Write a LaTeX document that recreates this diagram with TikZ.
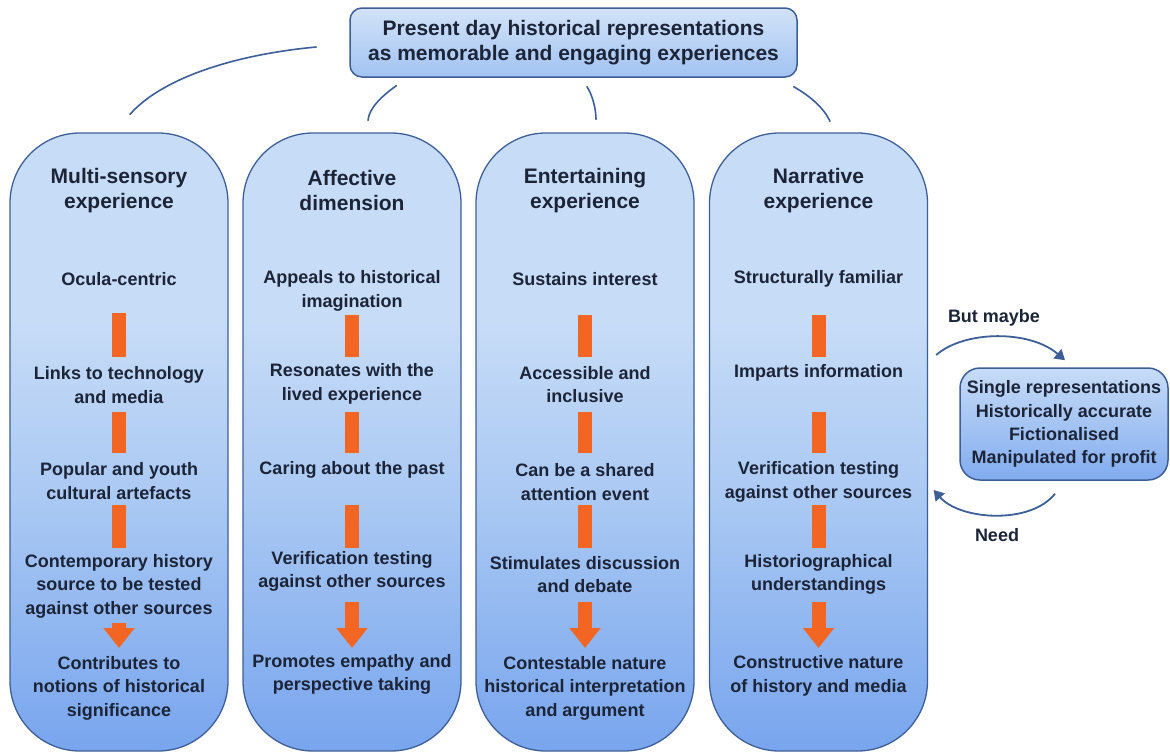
\documentclass[tikz,border=0pt]{standalone}
\usepackage{fontspec}
\setmainfont{Liberation Sans}
\usetikzlibrary{arrows.meta,calc}
\definecolor{ctop}{HTML}{C7DCF7}
\definecolor{cmid}{HTML}{A9C8F3}
\definecolor{cbot}{HTML}{78A5EE}
\definecolor{cedge}{HTML}{3E5F96}
\definecolor{ctxt}{HTML}{1C2438}
\definecolor{corange}{HTML}{F26522}
\pgfdeclareverticalshading{colshade}{100bp}{color(0bp)=(cbot); color(25bp)=(cbot); color(45bp)=(cmid); color(60bp)=(ctop); color(75bp)=(ctop); color(100bp)=(ctop)}
\tikzset{
 col/.style={draw=cedge, line width=1.3pt, rounded corners=70pt, shading=colshade,
   minimum width=218pt, minimum height=618pt, inner sep=0pt},
 ttl/.style={font=\bfseries\fontsize{21}{25}\selectfont, text=ctxt, align=center, inner sep=0pt},
 itm/.style={font=\bfseries\fontsize{18}{23.5}\selectfont, text=ctxt, align=center, inner sep=0pt},
 lbl/.style={font=\bfseries\fontsize{18}{22}\selectfont, text=ctxt, inner sep=0pt},
 bar/.style={draw=corange, line width=14pt},
 bigarrow/.style={draw=corange, line width=14pt, -{Triangle[width=30pt,length=20pt]}},
 link/.style={draw=cedge, line width=1.6pt, line cap=round},
 flow/.style={draw=cedge, line width=1.8pt, -{Triangle[width=12pt,length=10pt]}},
 topbox/.style={draw=cedge, line width=1.5pt, rounded corners=12pt, top color=ctop!80!white, bottom color=cmid!85!cbot,
   minimum width=447pt, minimum height=69pt, align=center, text=ctxt,
   font=\bfseries\fontsize{21}{25}\selectfont},
 sidebox/.style={draw=cedge, line width=1.5pt, rounded corners=20pt, top color=ctop, bottom color=cbot!80!cmid,
   minimum width=208pt, minimum height=112pt, align=center, text=ctxt, inner sep=0pt,
   font=\bfseries\fontsize{18}{23.3}\selectfont}
}
\begin{document}
\begin{tikzpicture}[x=1pt,y=-1pt]
\fill[white] (0,0) rectangle (1170,753);
\useasboundingbox (0,0) rectangle (1170,753);

% columns
\node[col] (k1) at (119,442) {};
\node[col] (k2) at (352,442) {};
\node[col] (k3) at (585,442) {};
\node[col] (k4) at (818.5,442) {};

% top box
\node[topbox] (top) at (573.5,42.5) {Present day historical representations\\as memorable and engaging experiences};

% links from top box to columns
\draw[link] ($(top.west)+(-33,4.5)$) .. controls (230,55) and (160,80) .. ($(k1.north)+(11,-18)$);
\draw[link] ($(top.south west)+(47,8)$) .. controls (382,96) and (369,108) .. ($(k2.north)+(16,-12)$);
\draw[link] ($(top.south)+(13.5,9)$) .. controls (593,96) and (596,110) .. ($(k3.north)+(11,-13)$);
\draw[link] ($(top.south east)+(-4,9)$) .. controls (810,96) and (824,108) .. ($(k4.north)+(11.5,-11)$);

% column 1
\node[ttl] (t1) at (119,190.5) {Multi-sensory\\experience};
\node[itm] (a1) at (119,279) {Ocula-centric};
\node[itm] (a2) at (119,385) {Links to technology\\and media};
\node[itm] (a3) at (119,481) {Popular and youth\\cultural artefacts};
\node[itm] (a4) at (119,586) {Contemporary history\\source to be tested\\against other sources};
\node[itm] (a5) at (119,688) {Contributes to\\notions of historical\\significance};
\draw[bar] ($(a1.center)+(0,34)$) -- ($(a2.center)+(0,-28)$);
\draw[bar] ($(a2.center)+(0,27)$) -- ($(a3.center)+(0,-28)$);
\draw[bar] ($(a3.center)+(0,24)$) -- ($(a4.center)+(0,-38)$);
\draw[bigarrow] ($(a4.center)+(0,37)$) -- ($(a5.center)+(0,-40)$);

% column 2
\node[ttl] (t2) at (352,190.5) {Affective\\dimension};
\node[itm] (b1) at (352,291) {Appeals to historical\\imagination};
\node[itm] (b2) at (352,384) {Resonates with the\\lived experience};
\node[itm] (b3) at (352,470) {Caring about the past};
\node[itm] (b4) at (352,571.5) {Verification testing\\against other sources};
\node[itm] (b5) at (352,674.5) {Promotes empathy and\\perspective taking};
\draw[bar] ($(b1.center)+(0,24)$) -- ($(b2.center)+(0,-27)$);
\draw[bar] ($(b2.center)+(0,28)$) -- ($(b3.center)+(0,-17)$);
\draw[bar] ($(b3.center)+(0,35)$) -- ($(b4.center)+(0,-23.5)$);
\draw[bigarrow] ($(b4.center)+(0,30.5)$) -- ($(b5.center)+(0,-26.5)$);

% column 3
\node[ttl] (t3) at (585,190.5) {Entertaining\\experience};
\node[itm] (c1) at (585,279) {Sustains interest};
\node[itm] (c2) at (585,384.5) {Accessible and\\inclusive};
\node[itm] (c3) at (585,482) {Can be a shared\\attention event};
\node[itm] (c4) at (585,574.5) {Stimulates discussion\\and debate};
\node[itm] (c5) at (585,688) {Contestable nature\\historical interpretation\\and argument};
\draw[bar] ($(c1.center)+(0,36)$) -- ($(c2.center)+(0,-27.5)$);
\draw[bar] ($(c2.center)+(0,27.5)$) -- ($(c3.center)+(0,-29)$);
\draw[bar] ($(c3.center)+(0,23)$) -- ($(c4.center)+(0,-26.5)$);
\draw[bigarrow] ($(c4.center)+(0,27.5)$) -- ($(c5.center)+(0,-40)$);

% column 4
\node[ttl] (t4) at (818.5,190.5) {Narrative\\experience};
\node[itm] (d1) at (818.5,279) {Structurally familiar};
\node[itm] (d2) at (818.5,373) {Imparts information};
\node[itm] (d3) at (818.5,482) {Verification testing\\against other sources};
\node[itm] (d4) at (818.5,574.5) {Historiographical\\understandings};
\node[itm] (d5) at (818.5,676) {Constructive nature\\of history and media};
\draw[bar] ($(d1.center)+(0,36)$) -- ($(d2.center)+(0,-16)$);
\draw[bar] ($(d2.center)+(0,39)$) -- ($(d3.center)+(0,-29)$);
\draw[bar] ($(d3.center)+(0,23)$) -- ($(d4.center)+(0,-26.5)$);
\draw[bigarrow] ($(d4.center)+(0,27.5)$) -- ($(d5.center)+(0,-28)$);

% side box
\node[sidebox] (rb) at (1064,424) {Single representations\\Historically accurate\\Fictionalised\\Manipulated for profit};
\draw[flow] ($(k4.east)+(8,-87)$) .. controls (965,330) and (1030,330) .. ($(rb.north)+(1,-7)$);
\draw[flow] ($(rb.south)+(-9,13)$) .. controls (1030,525) and (960,520) .. ($(k4.east)+(5.5,48)$);
\node[lbl] (bm) at (994,318) {But maybe};
\node[lbl] (nd) at (997,535) {Need};
\end{tikzpicture}
\end{document}
